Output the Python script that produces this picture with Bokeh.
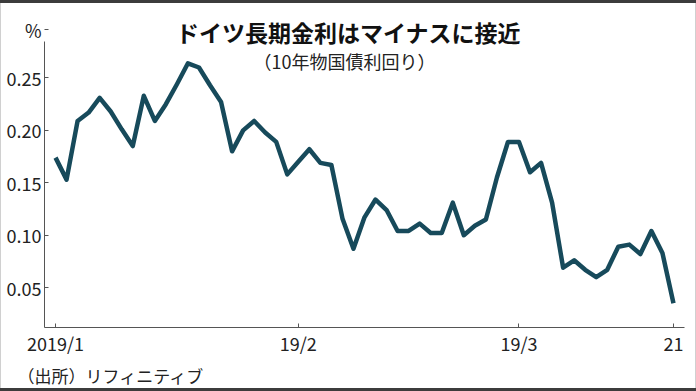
from bokeh.plotting import figure
from bokeh.models import Range1d, FixedTicker, Label, Title
from bokeh.embed import file_html
from bokeh.resources import INLINE

# ---- data ----
title_text = "ドイツ長期金利はマイナスに接近"
subtitle_text = "（10年物国債利回り）"
unit_text = "%"
source_text = "（出所）リフィニティブ"

# German 10y Bund yield, business days 2019/1/2 .. 2019/3/21
yields = [
    0.174, 0.153, 0.209, 0.217, 0.231, 0.218, 0.201, 0.185, 0.233, 0.209,
    0.225, 0.244, 0.264, 0.260, 0.243, 0.227, 0.180, 0.200, 0.209, 0.198,
    0.189, 0.158, 0.170, 0.182, 0.169, 0.167, 0.116, 0.087, 0.117, 0.134,
    0.124, 0.104, 0.104, 0.111, 0.102, 0.102, 0.131, 0.100, 0.109, 0.115,
    0.155, 0.189, 0.189, 0.160, 0.169, 0.131, 0.069, 0.076, 0.067, 0.060,
    0.067, 0.089, 0.091, 0.082, 0.104, 0.083, 0.035,
]
day_index = list(range(len(yields)))

x_tick_positions = [0, 22, 42, 56]
x_tick_labels = ["2019/1", "19/2", "19/3", "21"]
y_tick_values = [0.05, 0.10, 0.15, 0.20, 0.25]
y_tick_labels = ["0.05", "0.10", "0.15", "0.20", "0.25"]

# ---- styling ----
NUM_FONT = "Noto Sans CJK JP"
JP_FONT = "Noto Sans CJK JP"
LINE_COLOR = "#174a5b"
AXIS_COLOR = "#555555"
TEXT_COLOR = "#222222"

W, H = 696, 391
FRAME_BOTTOM = 327          # px from top of the picture
AXIS_TOP = 41               # where the y-axis line starts
X0, X1 = -1.0, 57.0
Y0, Y1 = 0.0119, 0.2848     # value range covered by the y-axis line
DY = (Y1 - Y0) / (FRAME_BOTTOM - AXIS_TOP)   # value per pixel
Y_TOP = Y1 + AXIS_TOP * DY                    # frame reaches the top edge
Y_UNIT = Y1 + 12 * DY                         # "%" sits 12px above the axis line

p = figure(width=W, height=H, output_backend="svg", toolbar_location=None, title=None,
           x_range=Range1d(X0, X1), y_range=Range1d(Y0, Y_TOP),
           min_border_left=44, min_border_right=12, min_border_top=0,
           min_border_bottom=H - FRAME_BOTTOM,
           styles={"box-shadow": "inset 0 3px 0 #3c3c3c, inset 0 -3px 0 #3c3c3c, "
                                 "inset 1px 0 0 #d0d0d0, inset -1px 0 0 #d0d0d0"})
p.outline_line_color = None
p.background_fill_alpha = 0
p.border_fill_alpha = 0
p.grid.visible = False

p.line(day_index, yields, line_color=LINE_COLOR, line_width=4.5, line_join="round")

for ax in (p.xaxis[0], p.yaxis[0]):
    ax.axis_line_color = AXIS_COLOR
    ax.axis_line_width = 1
    ax.major_tick_line_color = AXIS_COLOR
    ax.major_tick_in = 4
    ax.major_tick_out = 0
    ax.minor_tick_line_color = None
    ax.major_label_text_font = NUM_FONT
    ax.major_label_text_font_size = "18px"
    ax.major_label_text_color = TEXT_COLOR

p.xaxis.ticker = FixedTicker(ticks=x_tick_positions)
p.xaxis.major_label_overrides = {t: l for t, l in zip(x_tick_positions, x_tick_labels)}
p.xaxis.major_label_standoff = 2

p.yaxis.bounds = (Y0, Y1)
p.yaxis.ticker = FixedTicker(ticks=y_tick_values + [Y_UNIT])
overrides = {t: l for t, l in zip(y_tick_values, y_tick_labels)}
overrides[Y_UNIT] = unit_text
p.yaxis.major_label_overrides = overrides
p.yaxis.major_label_standoff = 3

# title and subtitle inside the (extended) frame
p.add_layout(Label(x=X0, y=Y_TOP, x_offset=304, y_offset=-31, text=title_text,
                   text_font=JP_FONT, text_font_size="23px", text_font_style="bold",
                   text_color="#111111", text_align="center", text_baseline="middle"))
p.add_layout(Label(x=X0, y=Y_TOP, x_offset=300, y_offset=-60, text=subtitle_text,
                   text_font=JP_FONT, text_font_size="18px",
                   text_color=TEXT_COLOR, text_align="center", text_baseline="middle"))

# source below the x axis
p.add_layout(Title(text=source_text, align="left", offset=-27, standoff=4,
                   text_font=JP_FONT, text_font_size="17px", text_font_style="normal",
                   text_color=TEXT_COLOR), "below")

open("out.html", "w").write(file_html(p, INLINE))
